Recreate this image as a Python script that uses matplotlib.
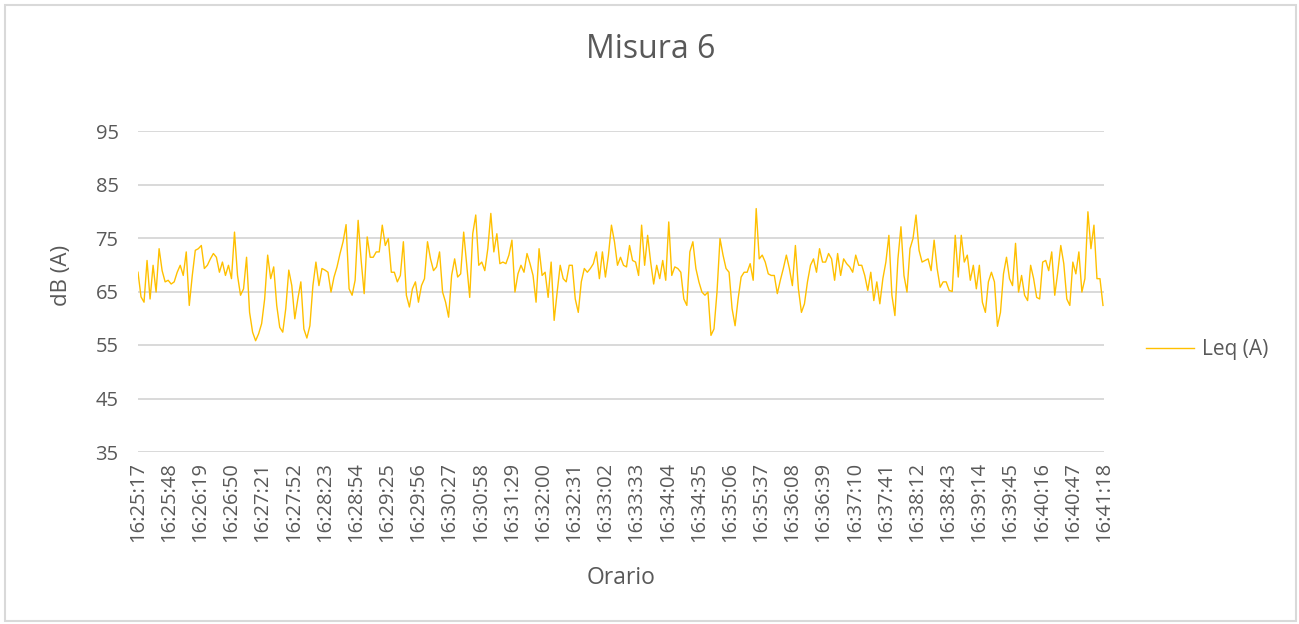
import matplotlib
matplotlib.use("Agg")
import matplotlib.pyplot as plt
from matplotlib.patches import Rectangle
import numpy as np

plt.rcParams['font.family'] = ['Open Sans', 'DejaVu Sans']

title = "Misura 6"
x_label = "Orario"
y_label = "dB (A)"
series_name = "Leq (A)"
step_seconds = 3

# Leq (A) readings, one every 3 s starting at 16:25:17
leq_part1 = [68.6, 64.0, 63.0, 70.8, 63.6, 69.9, 64.9, 73.0, 68.9, 66.8, 67.1, 66.4, 66.8, 68.6, 69.9, 68.0,
             72.4, 62.4, 68.0, 72.7, 73.0, 73.6, 69.3, 69.9, 71.1, 72.1, 71.4, 68.6, 70.5, 68.0, 69.9, 67.4, 76.1]
leq_part2 = [68.0, 64.3, 65.5, 71.4, 61.1, 57.4, 55.8, 57.1, 59.0, 63.6, 71.8, 67.4, 69.6, 62.4, 58.3, 57.4,
             61.8, 69.0, 66.1, 59.9, 63.6, 66.8, 58.0, 56.3, 58.6, 66.1, 70.5, 66.1, 69.3, 69.0, 68.6, 64.9, 67.7]
leq_part3 = [69.6, 72.1, 74.3, 77.5, 65.5, 64.3, 67.1, 78.3, 70.8, 64.6, 75.2, 71.4, 71.4, 72.4, 72.4, 77.4,
             73.6, 74.9, 68.6, 68.6, 66.8, 68.0, 74.3, 64.3, 62.1, 65.5, 66.8, 63.0, 66.1, 67.4, 74.3, 71.1]
leq_part4 = [68.9, 69.6, 72.4, 64.9, 63.0, 60.2, 68.0, 71.1, 67.7, 68.3, 76.1, 69.9, 63.9, 75.8, 79.3, 69.9,
             70.5, 68.9, 73.0, 79.6, 72.4, 75.8, 70.2, 70.5, 70.2, 71.8, 74.6, 64.9, 68.3, 69.9, 68.6, 72.1, 70.2]
leq_part5 = [68.0, 63.0, 73.0, 68.0, 68.6, 63.9, 70.5, 59.6, 64.9, 69.9, 67.4, 66.8, 69.9, 69.9, 63.6, 61.1,
             66.8, 69.3, 68.6, 69.3, 70.2, 72.4, 67.4, 72.4, 67.7, 71.8, 77.4, 74.3, 69.9, 71.4, 69.9, 69.6]
leq_part6 = [73.6, 70.8, 70.5, 68.0, 77.4, 69.9, 75.5, 70.5, 66.4, 69.9, 67.4, 70.8, 67.1, 78.0, 68.0, 69.6,
             69.3, 68.6, 63.6, 62.4, 72.4, 74.3, 69.3, 66.8, 64.9, 64.3, 64.9, 56.8, 58.0, 64.9, 74.9, 71.8]
leq_part7 = [69.3, 68.6, 61.8, 58.6, 63.6, 67.7, 68.6, 68.6, 70.2, 67.1, 80.5, 71.1, 71.8, 70.5, 68.3, 68.0,
             68.0, 64.6, 67.1, 69.3, 71.8, 69.3, 66.1, 73.6, 65.5, 61.1, 62.7, 66.8, 69.9, 71.1, 68.6, 73.0, 70.5]
leq_part8 = [70.5, 72.1, 71.1, 67.1, 72.1, 68.0, 71.1, 70.2, 69.6, 68.6, 71.8, 69.9, 69.9, 68.0, 65.2, 68.6,
             63.3, 66.8, 62.7, 67.4, 70.5, 75.5, 64.3, 60.5, 71.1, 77.1, 68.0, 64.9, 73.0, 74.9, 79.3, 72.7, 70.5]
leq_part9 = [70.8, 71.1, 68.9, 74.6, 69.3, 65.8, 66.8, 66.8, 65.2, 65.0, 75.5, 67.7, 75.5, 70.5, 71.8, 67.1,
             69.9, 65.5, 69.9, 63.0, 61.1, 66.8, 68.6, 66.8, 58.5, 61.1, 68.3, 71.4, 67.4, 66.1, 74.0, 64.9]
leq_part10 = [68.0, 64.3, 63.3, 69.9, 67.4, 63.9, 63.6, 70.5, 70.8, 68.9, 72.4, 64.3, 68.6, 73.6, 70.2, 63.6,
              62.4, 70.5, 68.3, 72.4, 64.9, 67.4, 79.9, 73.0, 77.4, 67.4, 67.4, 62.4]

tick_labels = ["16:25:17", "16:25:48", "16:26:19", "16:26:50", "16:27:21", "16:27:52", "16:28:23", "16:28:54",
               "16:29:25", "16:29:56", "16:30:27", "16:30:58", "16:31:29", "16:32:00", "16:32:31", "16:33:02",
               "16:33:33", "16:34:04", "16:34:35", "16:35:06", "16:35:37", "16:36:08", "16:36:39", "16:37:10",
               "16:37:41", "16:38:12", "16:38:43", "16:39:14", "16:39:45", "16:40:16", "16:40:47", "16:41:18"]
tick_step_seconds = 31
y_ticks = [35, 45, 55, 65, 75, 85, 95]

leq = np.array(leq_part1 + leq_part2 + leq_part3 + leq_part4 + leq_part5 +
               leq_part6 + leq_part7 + leq_part8 + leq_part9 + leq_part10)
seconds = np.arange(len(leq)) * step_seconds
tick_pos = np.arange(len(tick_labels)) * tick_step_seconds

W, H = 1299, 624
fig = plt.figure(figsize=(W / 100, H / 100), dpi=100)
ax = fig.add_axes([138 / W, 1 - 452 / H, (1104 - 138) / W, (452 - 131) / H])

text_color = "#595959"
grid_color = "#D9D9D9"

line, = ax.plot(seconds, leq, color="#FFC000", lw=1.0, label=series_name)

ax.set_xlim(0, tick_pos[-1])
ax.set_ylim(y_ticks[0], y_ticks[-1])
ax.set_yticks(y_ticks)
ax.set_xticks(tick_pos)
ax.set_xticklabels(tick_labels, rotation=90)
ax.tick_params(axis='both', length=0, labelsize=14.5, labelcolor=text_color)
ax.tick_params(axis='y', pad=14)
ax.tick_params(axis='x', pad=7)
ax.yaxis.grid(True, color=grid_color, lw=1.4)
ax.set_axisbelow(True)
for s in ax.spines.values():
    s.set_visible(False)

fig.text(651 / W, 1 - 50 / H, title, ha='center', va='center', fontsize=23, color=text_color)
fig.text(621 / W, 1 - 578 / H, x_label, ha='center', va='center', fontsize=16.5, color=text_color)
fig.text(61 / W, 1 - 275 / H, y_label, ha='center', va='center', rotation=90, fontsize=16, color=text_color)

fig.legend(handles=[line], loc='center left', bbox_to_anchor=(1146 / W, 1 - 350 / H), frameon=False,
           fontsize=15, labelcolor=text_color, handlelength=2.3, handletextpad=0.4, borderpad=0,
           borderaxespad=0)

fig.patches.append(Rectangle((5 / W, 3 / H), 1291 / W, 616 / H, transform=fig.transFigure,
                             fill=False, edgecolor=grid_color, lw=1.5))

fig.savefig("out.png", dpi=100)
